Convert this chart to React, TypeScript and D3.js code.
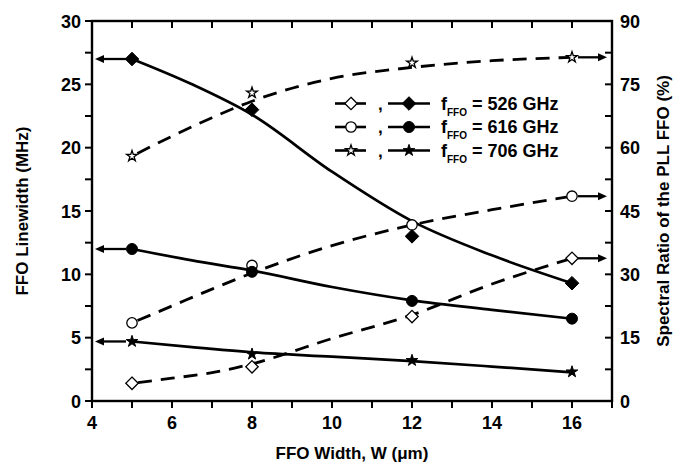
import React from "react";
import * as d3 from "d3";

// ---- data ----
const WIDTHS = [5, 8, 12, 16];
// FFO linewidth (MHz), filled markers, left axis
const LW_526 = [27, 23, 13, 9.3];
const LW_616 = [12, 10.2, 7.9, 6.5];
const LW_706 = [4.7, 3.7, 3.2, 2.3];
// Spectral ratio (%), open markers, right axis
const SR_526 = [4.2, 8.1, 20, 33.8];
const SR_616 = [18.5, 32.1, 41.7, 48.5];
const SR_706 = [58, 73, 80.1, 81.4];
// fit curves
const FIT_X_SOLID = [5, 6.5, 8, 10, 12, 14, 16];
const FIT_LW_526 = [27, 25.0, 22.6, 18.1, 14.2, 11.5, 9.3];
const FIT_LW_616 = [12, 11.1, 10.3, 9.0, 7.95, 7.2, 6.5];
const FIT_LW_706 = [4.7, 4.25, 3.85, 3.5, 3.15, 2.72, 2.26];
const FIT_X_DASH = [5, 6, 7, 8, 10, 12, 14, 16];
const FIT_SR_526 = [4.2, 5.4, 6.7, 8.8, 14.8, 20.4, 27.7, 33.8];
const FIT_SR_616 = [18.5, 22.5, 26.5, 30.3, 36.8, 41.7, 45.3, 48.5];
const FIT_SR_706 = [58, 62.7, 67.1, 71, 76.4, 79, 80.6, 81.4];
const X_TICKS = [4, 6, 8, 10, 12, 14, 16];
const LEFT_TICKS = [0, 5, 10, 15, 20, 25, 30];
const RIGHT_TICKS = [0, 15, 30, 45, 60, 75, 90];
const LEGEND_FREQS = ["526", "616", "706"];

const W = 684, H = 471;
const FONT = "'Liberation Sans', Arial, sans-serif";

type Shape = "diamond" | "circle" | "star";
const SHAPES: Shape[] = ["diamond", "circle", "star"];

function markerPath(shape: Shape, filled: boolean): string {
  if (shape === "diamond") {
    const r = filled ? 6.8 : 6.2;
    return `M0,${-r}L${r},0L0,${r}L${-r},0Z`;
  }
  if (shape === "circle") {
    return d3.symbol(d3.symbolCircle, filled ? 95 : 85)() as string;
  }
  return d3.symbol(d3.symbolStar, filled ? 42 : 36)() as string;
}

function Marker({ x, y, shape, filled }: { x: number; y: number; shape: Shape; filled: boolean }) {
  return (
    <path
      d={markerPath(shape, filled)}
      transform={`translate(${x},${y})`}
      fill={filled ? "#000" : "#fff"}
      stroke="#000"
      strokeWidth={filled ? 1 : 1.3}
    />
  );
}

export default function App() {
  const x = d3.scaleLinear().domain([4, 17]).range([92, 612]);
  const yL = d3.scaleLinear().domain([0, 30]).range([401, 21]);
  const yR = d3.scaleLinear().domain([0, 90]).range([401, 21]);
  const left = x(4), right = x(17), top = yL(30), bottom = yL(0);

  const lineL = (xs: number[], ys: number[]) =>
    d3.line<number>().x((_, i) => x(xs[i])).y((d) => yL(d)).curve(d3.curveMonotoneX)(ys) as string;
  const lineR = (xs: number[], ys: number[]) =>
    d3.line<number>().x((_, i) => x(xs[i])).y((d) => yR(d)).curve(d3.curveMonotoneX)(ys) as string;

  const solidFits = [FIT_LW_526, FIT_LW_616, FIT_LW_706];
  const dashFits = [FIT_SR_526, FIT_SR_616, FIT_SR_706];
  const lwSeries = [LW_526, LW_616, LW_706];
  const srSeries = [SR_526, SR_616, SR_706];

  const xMinor = d3.range(4, 17.01, 1);
  const leftMinor = d3.range(0, 30.01, 2.5);
  const rightMinor = d3.range(0, 90.01, 7.5);

  const arrowHead = (tipX: number, y: number, dir: number) =>
    `M${tipX},${y}L${tipX - dir * 9},${y - 4}L${tipX - dir * 9},${y + 4}Z`;

  return (
    <svg
      width={W}
      height={H}
      style={{ position: "absolute", left: 0, top: 0, background: "#fff" }}
      fontFamily={FONT}
      fontWeight="bold"
    >
      <rect width={W} height={H} fill="#fff" />
      {/* fit curves */}
      {solidFits.map((f, i) => (
        <path key={"s" + i} d={lineL(FIT_X_SOLID, f)} fill="none" stroke="#000" strokeWidth={2.7} />
      ))}
      {dashFits.map((f, i) => (
        <path
          key={"d" + i}
          d={lineR(FIT_X_DASH, f)}
          fill="none"
          stroke="#000"
          strokeWidth={2.8}
          strokeDasharray="14,9"
          strokeDashoffset={-6}
        />
      ))}
      {/* arrows: left (linewidth) */}
      {lwSeries.map((s, i) => {
        const y = yL(s[0]);
        const tip = left + 3;
        return (
          <g key={"al" + i}>
            <line x1={x(WIDTHS[0]) - 6} x2={tip + 7} y1={y} y2={y} stroke="#000" strokeWidth={2.3} />
            <path d={arrowHead(tip, y, -1)} fill="#000" />
          </g>
        );
      })}
      {/* arrows: right (spectral ratio) */}
      {srSeries.map((s, i) => {
        const y = yR(s[3]);
        const tip = right - 5;
        return (
          <g key={"ar" + i}>
            <line x1={x(WIDTHS[3]) + 6} x2={tip - 7} y1={y} y2={y} stroke="#000" strokeWidth={2.3} />
            <path d={arrowHead(tip, y, 1)} fill="#000" />
          </g>
        );
      })}
      {/* markers */}
      {srSeries.map((s, i) =>
        s.map((v, j) => <Marker key={`o${i}-${j}`} x={x(WIDTHS[j])} y={yR(v)} shape={SHAPES[i]} filled={false} />)
      )}
      {lwSeries.map((s, i) =>
        s.map((v, j) => <Marker key={`f${i}-${j}`} x={x(WIDTHS[j])} y={yL(v)} shape={SHAPES[i]} filled={true} />)
      )}
      {/* frame */}
      <rect x={left} y={top} width={right - left} height={bottom - top} fill="none" stroke="#000" strokeWidth={2.4} />
      {/* bottom + top ticks */}
      {xMinor.map((t) => (
        <g key={"xt" + t}>
          <line x1={x(t)} x2={x(t)} y1={bottom} y2={bottom + 7} stroke="#000" strokeWidth={2} />
          <line x1={x(t)} x2={x(t)} y1={top} y2={top + 7} stroke="#000" strokeWidth={2} />
        </g>
      ))}
      {X_TICKS.map((t) => (
        <text key={"xl" + t} x={x(t)} y={429} textAnchor="middle" fontSize={18}>
          {t}
        </text>
      ))}
      {/* left ticks */}
      {leftMinor.map((t) => (
        <line key={"lt" + t} x1={left - 7} x2={left} y1={yL(t)} y2={yL(t)} stroke="#000" strokeWidth={2} />
      ))}
      {LEFT_TICKS.map((t) => (
        <text key={"ll" + t} x={left - 11} y={yL(t) + 6.5} textAnchor="end" fontSize={18}>
          {t}
        </text>
      ))}
      {/* right ticks */}
      {rightMinor.map((t) => (
        <line key={"rt" + t} x1={right - 7} x2={right} y1={yR(t)} y2={yR(t)} stroke="#000" strokeWidth={2} />
      ))}
      {RIGHT_TICKS.map((t) => (
        <text key={"rl" + t} x={right + 8} y={yR(t) + 6.5} textAnchor="start" fontSize={18}>
          {t}
        </text>
      ))}
      {/* axis titles */}
      <text x={(left + right) / 2} y={459} textAnchor="middle" fontSize={17}>
        FFO Width, W (μm)
      </text>
      <text transform={`translate(28,${(top + bottom) / 2}) rotate(-90)`} textAnchor="middle" fontSize={17}>
        FFO Linewidth (MHz)
      </text>
      <text transform={`translate(669,${(top + bottom) / 2}) rotate(-90)`} textAnchor="middle" fontSize={17}>
        Spectral Ratio of the PLL FFO (%)
      </text>
      {/* legend */}
      {LEGEND_FREQS.map((f, i) => {
        const cy = 103.5 + i * 23.5;
        return (
          <g key={"lg" + i}>
            <line x1={335} x2={366} y1={cy} y2={cy} stroke="#000" strokeWidth={2.6} />
            <Marker x={351} y={cy} shape={SHAPES[i]} filled={false} />
            <text x={378} y={cy + 6} fontSize={17}>,</text>
            <line x1={388} x2={430} y1={cy} y2={cy} stroke="#000" strokeWidth={2.6} />
            <Marker x={409} y={cy} shape={SHAPES[i]} filled={true} />
            <text x={441} y={cy + 6} fontSize={18}>
              f
              <tspan fontSize={10} dy={6}>FFO</tspan>
              <tspan dy={-6}> = {f} GHz</tspan>
            </text>
          </g>
        );
      })}
    </svg>
  );
}
